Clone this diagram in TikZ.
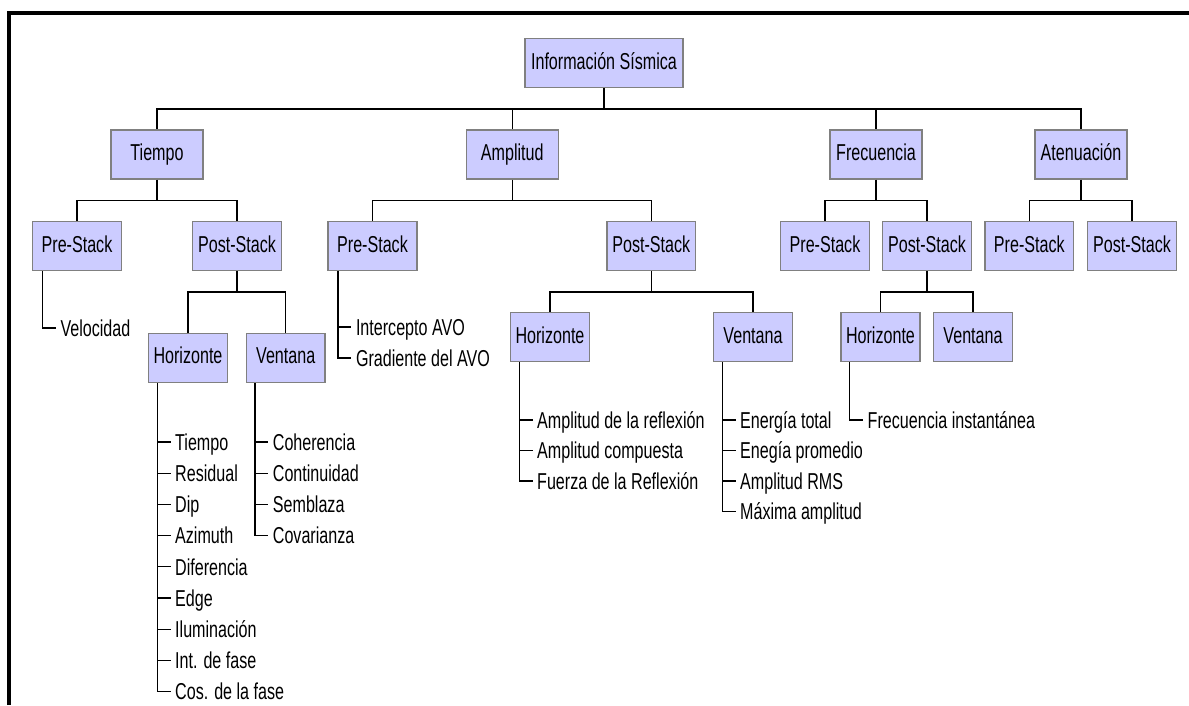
\documentclass[tikz,border=0pt]{standalone}
\usepackage{fontspec}
\setmainfont{Liberation Sans}[FakeStretch=0.70]
\usepackage{tikz}
\usetikzlibrary{positioning}
\definecolor{boxfill}{RGB}{204,204,255}
\definecolor{boxline}{RGB}{128,128,128}
\tikzset{box/.style={rectangle, draw=boxline, fill=boxfill, line width=1.5pt, minimum height=49pt, text height=16.5pt, text depth=4.5pt, inner sep=0pt, text centered},rootbox/.style={box, minimum width=158pt},topbox/.style={box, minimum width=92pt},stackbox/.style={box, minimum width=88.6pt},subbox/.style={box, minimum width=78.6pt},leaf/.style={anchor=west, inner xsep=4.5pt, inner ysep=0pt, text height=16.5pt, text depth=0pt},link/.style={line width=1.3pt}}

\begin{document}
\begin{tikzpicture}[x=1pt,y=-1pt,font=\fontsize{23}{28}\selectfont]

\useasboundingbox (0,0) rectangle (1189,705);
\draw[line width=4pt] (9,705) -- (9,13) -- (1189,13);

\node (root) at (604,63)[rootbox]{Información Sísmica};

\node (tie) at (157,154.5)[topbox]{Tiempo};
\node (amp) at (512.3,154.5)[topbox]{Amplitud};
\node (fre) at (876,154.5)[topbox]{Frecuencia};
\node (ate) at (1081,154.5)[topbox]{Atenuación};

\node (tiePre) at (77,246)[stackbox]{Pre-Stack};
\node (tiePost) at (237,246)[stackbox]{Post-Stack};
\node (ampPre) at (372.5,246)[stackbox]{Pre-Stack};
\node (ampPost) at (651.3,246)[stackbox]{Post-Stack};
\node (frePre) at (825,246)[stackbox]{Pre-Stack};
\node (frePost) at (927,246)[stackbox]{Post-Stack};
\node (atePre) at (1029.3,246)[stackbox]{Pre-Stack};
\node (atePost) at (1132,246)[stackbox]{Post-Stack};

\node (tieHor) at (188,357.8)[subbox]{Horizonte};
\node (tieVen) at (285.7,357.8)[subbox]{Ventana};
\node (ampHor) at (550,337.2)[subbox]{Horizonte};
\node (ampVen) at (753,337.2)[subbox]{Ventana};
\node (freHor) at (880.5,337.2)[subbox]{Horizonte};
\node (freVen) at (973,337.2)[subbox]{Ventana};

\foreach \p/\c in {root/tie,root/amp,root/fre,root/ate,tie/tiePre,tie/tiePost,amp/ampPre,amp/ampPost,fre/frePre,fre/frePost,ate/atePre,ate/atePost,tiePost/tieHor,tiePost/tieVen,ampPost/ampHor,ampPost/ampVen,frePost/freHor,frePost/freVen}
  \draw[link] (\p.south) -- ++(0,20.7) -| (\c.north);

\node (velo) at (55.8,328)[leaf]{Velocidad};
\draw[link] (tiePre.south west) ++(10.6,0) |- (velo.west);

\node (avo1) at (351.3,327)[leaf]{Intercepto AVO};
\node (avo2) at (351.3,358)[leaf]{Gradiente del AVO};
\draw[link] (ampPre.south west) ++(10.6,0) |- (avo1.west);
\draw[link] (ampPre.south west) ++(10.6,0) |- (avo2.west);

\foreach \t [count=\i] in {Tiempo,Residual,Dip,Azimuth,Diferencia,Edge,Iluminación,Int. de fase,Cos. de la fase}{
  \node (tieHor\i) at (170.5,{442+31.2*(\i-1)})[leaf]{\t};
  \draw[link] (tieHor.south west) ++(9.3,0) |- (tieHor\i.west);
}

\foreach \t [count=\i] in {Coherencia,Continuidad,Semblaza,Covarianza}{
  \node (tieVen\i) at (268.2,{442+31.2*(\i-1)})[leaf]{\t};
  \draw[link] (tieVen.south west) ++(9.3,0) |- (tieVen\i.west);
}

\foreach \t [count=\i] in {Amplitud de la reflexión,Amplitud compuesta,Fuerza de la Reflexión}{
  \node (ampHor\i) at (532.5,{420+30.5*(\i-1)})[leaf]{\t};
  \draw[link] (ampHor.south west) ++(9.3,0) |- (ampHor\i.west);
}

\foreach \t [count=\i] in {Energía total,Enegía promedio,Amplitud RMS,Máxima amplitud}{
  \node (ampVen\i) at (735.5,{420+30.5*(\i-1)})[leaf]{\t};
  \draw[link] (ampVen.south west) ++(9.3,0) |- (ampVen\i.west);
}

\node (freHor1) at (863,420)[leaf]{Frecuencia instantánea};
\draw[link] (freHor.south west) ++(9.3,0) |- (freHor1.west);

\end{tikzpicture}
\end{document}
